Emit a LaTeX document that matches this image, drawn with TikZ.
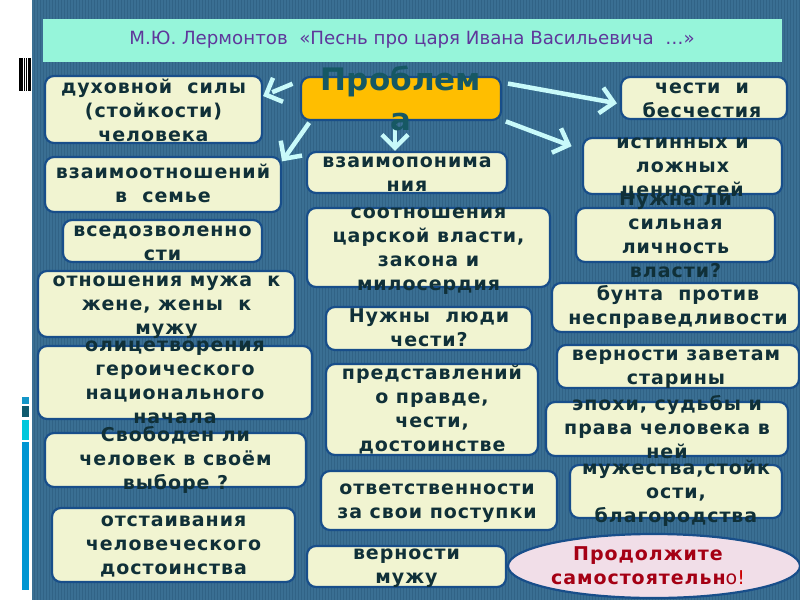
\documentclass[tikz,border=0pt]{standalone}
\usepackage{fontspec}
\setmainfont{DejaVu Sans}
\newfontfamily\boxfont[LetterSpace=5]{DejaVu Sans}
\usetikzlibrary{arrows.meta,fit,shapes.geometric}
\definecolor{panel}{RGB}{58,111,147}
\definecolor{stripe}{RGB}{49,99,134}
\definecolor{titlefill}{RGB}{150,245,218}
\definecolor{titletext}{RGB}{95,55,155}
\definecolor{boxfill}{RGB}{241,244,209}
\definecolor{boxborder}{RGB}{24,78,138}
\definecolor{boxtext}{RGB}{16,48,56}
\definecolor{probfill}{RGB}{255,190,0}
\definecolor{probtext}{RGB}{22,88,100}
\definecolor{arrowcol}{RGB}{200,250,250}
\definecolor{ellfill}{RGB}{241,222,232}
\definecolor{ellred}{RGB}{165,0,20}
\definecolor{barA}{RGB}{20,150,200}
\definecolor{barB}{RGB}{15,90,110}
\definecolor{barC}{RGB}{0,200,220}
\definecolor{barD}{RGB}{0,150,210}
\begin{document}
\begin{tikzpicture}[x=1pt,y=-1pt,
  box/.style={draw=boxborder, line width=2.2pt, rounded corners=9pt, fill=boxfill, inner sep=0pt},
  txt/.style={font=\boxfont\bfseries\fontsize{19}{24}\selectfont, text=boxtext, align=center, inner sep=0pt},
  arr/.style={draw=arrowcol, line width=4.5pt, -{Straight Barb[length=13pt,width=26pt]}},
  bar/.style={fill=black, draw=none}]
\useasboundingbox (0,0) rectangle (800,600);
% background panel
\fill[white] (0,0) rectangle (800,600);
\fill[panel] (32,0) rectangle (800,600);
\foreach \i in {34,37,...,799} \draw[stripe, line width=1pt] (\i,0) -- (\i,600);
% left decorations
\foreach \a/\b in {18.5/19.4, 20.2/21.6, 22.4/23.1, 23.9/24.7, 25.6/27, 28/31}
  \fill[black] (\a,58) rectangle (\b,91);
\fill[barA] (22,397) rectangle (29,404);
\fill[barB] (22,406) rectangle (29,417);
\fill[barC] (22,420) rectangle (29,440);
\fill[barD] (22,442) rectangle (29,590);
% title
\node[fill=titlefill, inner sep=0pt, fit={(43,19) (782,62)}] (title) {};
\node[font=\fontsize{18.2}{21}\selectfont, text=titletext, inner sep=0pt] (titletxt) at (412,40)
  {М.Ю. Лермонтов\ \ «Песнь про царя Ивана Васильевича\ \ …»};
% boxes
\node[box, fit={(45,76) (262,143)}] (b1) {};
\node[box, fit={(45,157) (281,212)}] (b2) {};
\node[box, fit={(63,220) (262,262)}] (b3) {};
\node[box, fit={(38,271) (295,337)}] (b4) {};
\node[box, fit={(38,346) (312,419)}] (b5) {};
\node[box, fit={(45,433) (306,487)}] (b6) {};
\node[box, fit={(52,508) (295,582)}] (b7) {};
\node[box, fill=probfill, fit={(301,77) (501,120)}] (pb) {};
\node[box, fit={(307,152) (507,193)}] (b9) {};
\node[box, fit={(307,208) (550,287)}] (b10) {};
\node[box, fit={(326,307) (532,350)}] (b11) {};
\node[box, fit={(326,364) (538,455)}] (b12) {};
\node[box, fit={(321,471) (557,530)}] (b13) {};
\node[box, fit={(307,546) (506,587)}] (b14) {};
\node[box, fit={(621,77) (787,119)}] (b15) {};
\node[box, fit={(583,138) (782,194)}] (b16) {};
\node[box, fit={(576,208) (775,262)}] (b17) {};
\node[box, fit={(552,283) (799,332)}] (b18) {};
\node[box, fit={(557,345) (799,388)}] (b19) {};
\node[box, fit={(546,402) (788,456)}] (b20) {};
\node[box, fit={(570,465) (782,518)}] (b21) {};
\node[ellipse, draw=boxborder, line width=2.2pt, fill=ellfill, minimum width=292pt, minimum height=64pt, inner sep=0pt] (el) at (654,566) {};
% arrows
\draw[arr, dash pattern=on 22pt off 9pt, shorten <=8pt] (pb.170) -- (b1.7);
\draw[arr, shorten <=2pt] (pb.194.5) -- (b2.11.7);
\draw[arr] ([xshift=-6pt]pb.south) -- ([xshift=-12pt]b9.north);
\draw[arr, shorten <=6pt, shorten >=3pt] (pb.9.4) -- (b15.184.8);
\draw[arr, shorten <=4pt, shorten >=11pt] (pb.-12) -- (b16.171);
% texts
\node[txt] (t1) at (153.5,112.7) {\strut духовной\ \ силы\\(стойкости)\\человека\strut};
\node[txt] (t2) at (163,186) {\strut взаимоотношений\\в\ \ семье\strut};
\node[txt] (t3) at (162.5,243.5) {\strut вседозволенно\\сти\strut};
\node[txt] (t4) at (166.5,305.5) {\strut отношения мужа\ \ к\\жене, жены\ \ к\\мужу\strut};
\node[txt] (t5) at (175,382.5) {\strut олицетворения\\героического\\национального\\начала\strut};
\node[txt] (t6) at (175.5,460.7) {\strut Свободен ли\\человек в своём\\выборе ?\strut};
\node[txt] (t7) at (173.5,545.7) {\strut отстаивания\\человеческого\\достоинства\strut};
\node[font=\bfseries\fontsize{31}{40}\selectfont, text=probtext, align=center, inner sep=0pt] (tp) at (401,102) {\strut Проблем\\а\strut};
\node[txt] (t9) at (407,175) {\strut взаимопонима\\ния\strut};
\node[txt] (t10) at (428.5,250) {\strut соотношения\\царской власти,\\закона и\\милосердия\strut};
\node[txt] (t11) at (429,329.5) {\strut Нужны\ \ люди\\чести?\strut};
\node[txt] (t12) at (432,411) {\strut представлений\\о правде,\\чести,\\достоинстве\strut};
\node[txt] (t13) at (437,501.5) {\strut ответственности\\за свои поступки\strut};
\node[txt] (t14) at (406.5,567) {\strut верности\\мужу\strut};
\node[txt] (t15) at (702,101) {\strut чести\ \ и\\бесчестия\strut};
\node[txt] (t16) at (682.5,167.7) {\strut истинных и\\ложных\\ценностей\strut};
\node[txt] (t17) at (675.5,236.7) {\strut Нужна ли\\сильная\\личность\\власти?\strut};
\node[txt] (t18) at (678,308) {\strut бунта\ \ против\\несправедливости\strut};
\node[txt] (t19) at (676,368) {\strut верности заветам\\старины\strut};
\node[txt] (t20) at (667,430) {\strut эпохи, судьбы и\\права человека в\\ней\strut};
\node[txt] (t21) at (676,493.7) {\strut мужества,стойк\\ости,\\благородства\strut};
\node[txt, text=ellred] (te) at (648,568) {\strut Продолжите\\самостоятельн{\mdseries о}{\mdseries\color{red!80!black}!}\strut};
\end{tikzpicture}
\end{document}
